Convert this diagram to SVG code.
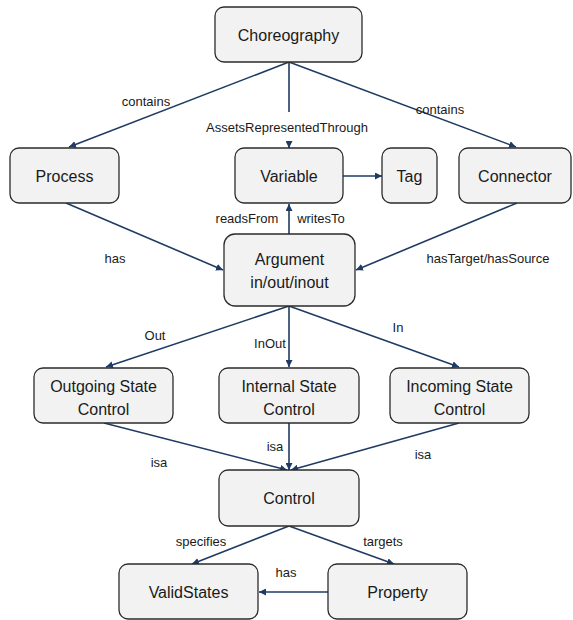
<svg xmlns="http://www.w3.org/2000/svg" width="573" height="620" viewBox="0 0 573 620">
  <style>
    .box { fill: #f2f2f2; stroke: #2b2b2b; stroke-width: 1.3; }
    .lbl { font-family: "Liberation Sans", Arial, sans-serif; font-size: 16px; fill: #1a1a1a; text-anchor: middle; dominant-baseline: central; }
    .elbl { font-family: "Liberation Sans", Arial, sans-serif; font-size: 13px; fill: #1a1a1a; text-anchor: middle; dominant-baseline: central; }
    .edge { stroke: #1f3b63; stroke-width: 1.6; fill: none; }
  </style>
  <defs>
    <marker id="arrow" viewBox="0 0 10 10" refX="10" refY="5" markerWidth="7" markerHeight="7" markerUnits="userSpaceOnUse" orient="auto">
      <path d="M0,0 L10,5 L0,10 z" fill="#1f3b63"/>
    </marker>
  </defs>
  <rect width="573" height="620" fill="#ffffff"/>

  <!-- connectors -->
  <g id="edges">
    <path class="edge" d="M289,62 L69,147" marker-end="url(#arrow)"/>
    <path class="edge" d="M289,62 L516,147" marker-end="url(#arrow)"/>
    <path class="edge" d="M289,62 L289,112"/>
    <path class="edge" d="M289,141 L289,148" marker-end="url(#arrow)"/>
    <path class="edge" d="M343,176 L382,176" marker-end="url(#arrow)"/>
    <path class="edge" d="M289,234 L289,204" marker-end="url(#arrow)"/>
    <path class="edge" d="M66,203 L223,270" marker-end="url(#arrow)"/>
    <path class="edge" d="M517,203 L356,270" marker-end="url(#arrow)"/>
    <path class="edge" d="M289,306 L106,367" marker-end="url(#arrow)"/>
    <path class="edge" d="M289,306 L289,367" marker-end="url(#arrow)"/>
    <path class="edge" d="M289,306 L459,367" marker-end="url(#arrow)"/>
    <path class="edge" d="M104,423 L287,470" marker-end="url(#arrow)"/>
    <path class="edge" d="M289,423 L289,470" marker-end="url(#arrow)"/>
    <path class="edge" d="M459,423 L291,470" marker-end="url(#arrow)"/>
    <path class="edge" d="M289,526 L192,564" marker-end="url(#arrow)"/>
    <path class="edge" d="M289,526 L394,564" marker-end="url(#arrow)"/>
    <path class="edge" d="M328,592 L259,592" marker-end="url(#arrow)"/>
  </g>

  <!-- connector labels -->
  <g id="edge-labels">
    <text class="elbl" x="146" y="101">contains</text>
    <text class="elbl" x="440" y="109">contains</text>
    <text class="elbl" x="287" y="127">AssetsRepresentedThrough</text>
    <text class="elbl" x="247" y="218">readsFrom</text>
    <text class="elbl" x="321" y="218">writesTo</text>
    <text class="elbl" x="115" y="258">has</text>
    <text class="elbl" x="488" y="258">hasTarget/hasSource</text>
    <text class="elbl" x="155" y="335">Out</text>
    <text class="elbl" x="270" y="343">InOut</text>
    <text class="elbl" x="398" y="327">In</text>
    <text class="elbl" x="159" y="462">isa</text>
    <text class="elbl" x="275" y="446">isa</text>
    <text class="elbl" x="423" y="454">isa</text>
    <text class="elbl" x="201" y="541">specifies</text>
    <text class="elbl" x="383" y="541">targets</text>
    <text class="elbl" x="286" y="572">has</text>
  </g>

  <!-- nodes -->
  <g id="choreography">
    <rect class="box" x="215" y="7" width="147" height="55" rx="9"/>
    <text class="lbl" x="288.5" y="35">Choreography</text>
  </g>
  <g id="process">
    <rect class="box" x="10" y="148" width="109" height="55" rx="9"/>
    <text class="lbl" x="64.5" y="176">Process</text>
  </g>
  <g id="variable">
    <rect class="box" x="235" y="148" width="108" height="55" rx="9"/>
    <text class="lbl" x="289" y="176">Variable</text>
  </g>
  <g id="tag">
    <rect class="box" x="382" y="148" width="55" height="55" rx="9"/>
    <text class="lbl" x="409.5" y="176">Tag</text>
  </g>
  <g id="connector">
    <rect class="box" x="459" y="148" width="112" height="55" rx="9"/>
    <text class="lbl" x="515" y="176">Connector</text>
  </g>
  <g id="argument">
    <rect class="box" x="224" y="234" width="131" height="72" rx="11"/>
    <text class="lbl" x="289.5" y="259">Argument</text>
    <text class="lbl" x="289.5" y="282">in/out/inout</text>
  </g>
  <g id="outgoing-state-control">
    <rect class="box" x="34" y="368" width="139" height="55" rx="9"/>
    <text class="lbl" x="103.5" y="386">Outgoing State</text>
    <text class="lbl" x="103.5" y="409">Control</text>
  </g>
  <g id="internal-state-control">
    <rect class="box" x="219" y="368" width="140" height="55" rx="9"/>
    <text class="lbl" x="289" y="386">Internal State</text>
    <text class="lbl" x="289" y="409">Control</text>
  </g>
  <g id="incoming-state-control">
    <rect class="box" x="390" y="368" width="139" height="55" rx="9"/>
    <text class="lbl" x="459.5" y="386">Incoming State</text>
    <text class="lbl" x="459.5" y="409">Control</text>
  </g>
  <g id="control">
    <rect class="box" x="219" y="470" width="140" height="56" rx="9"/>
    <text class="lbl" x="289" y="498">Control</text>
  </g>
  <g id="validstates">
    <rect class="box" x="119" y="564" width="139" height="55" rx="9"/>
    <text class="lbl" x="188.5" y="592">ValidStates</text>
  </g>
  <g id="property">
    <rect class="box" x="328" y="564" width="139" height="55" rx="9"/>
    <text class="lbl" x="397.5" y="592">Property</text>
  </g>
</svg>
